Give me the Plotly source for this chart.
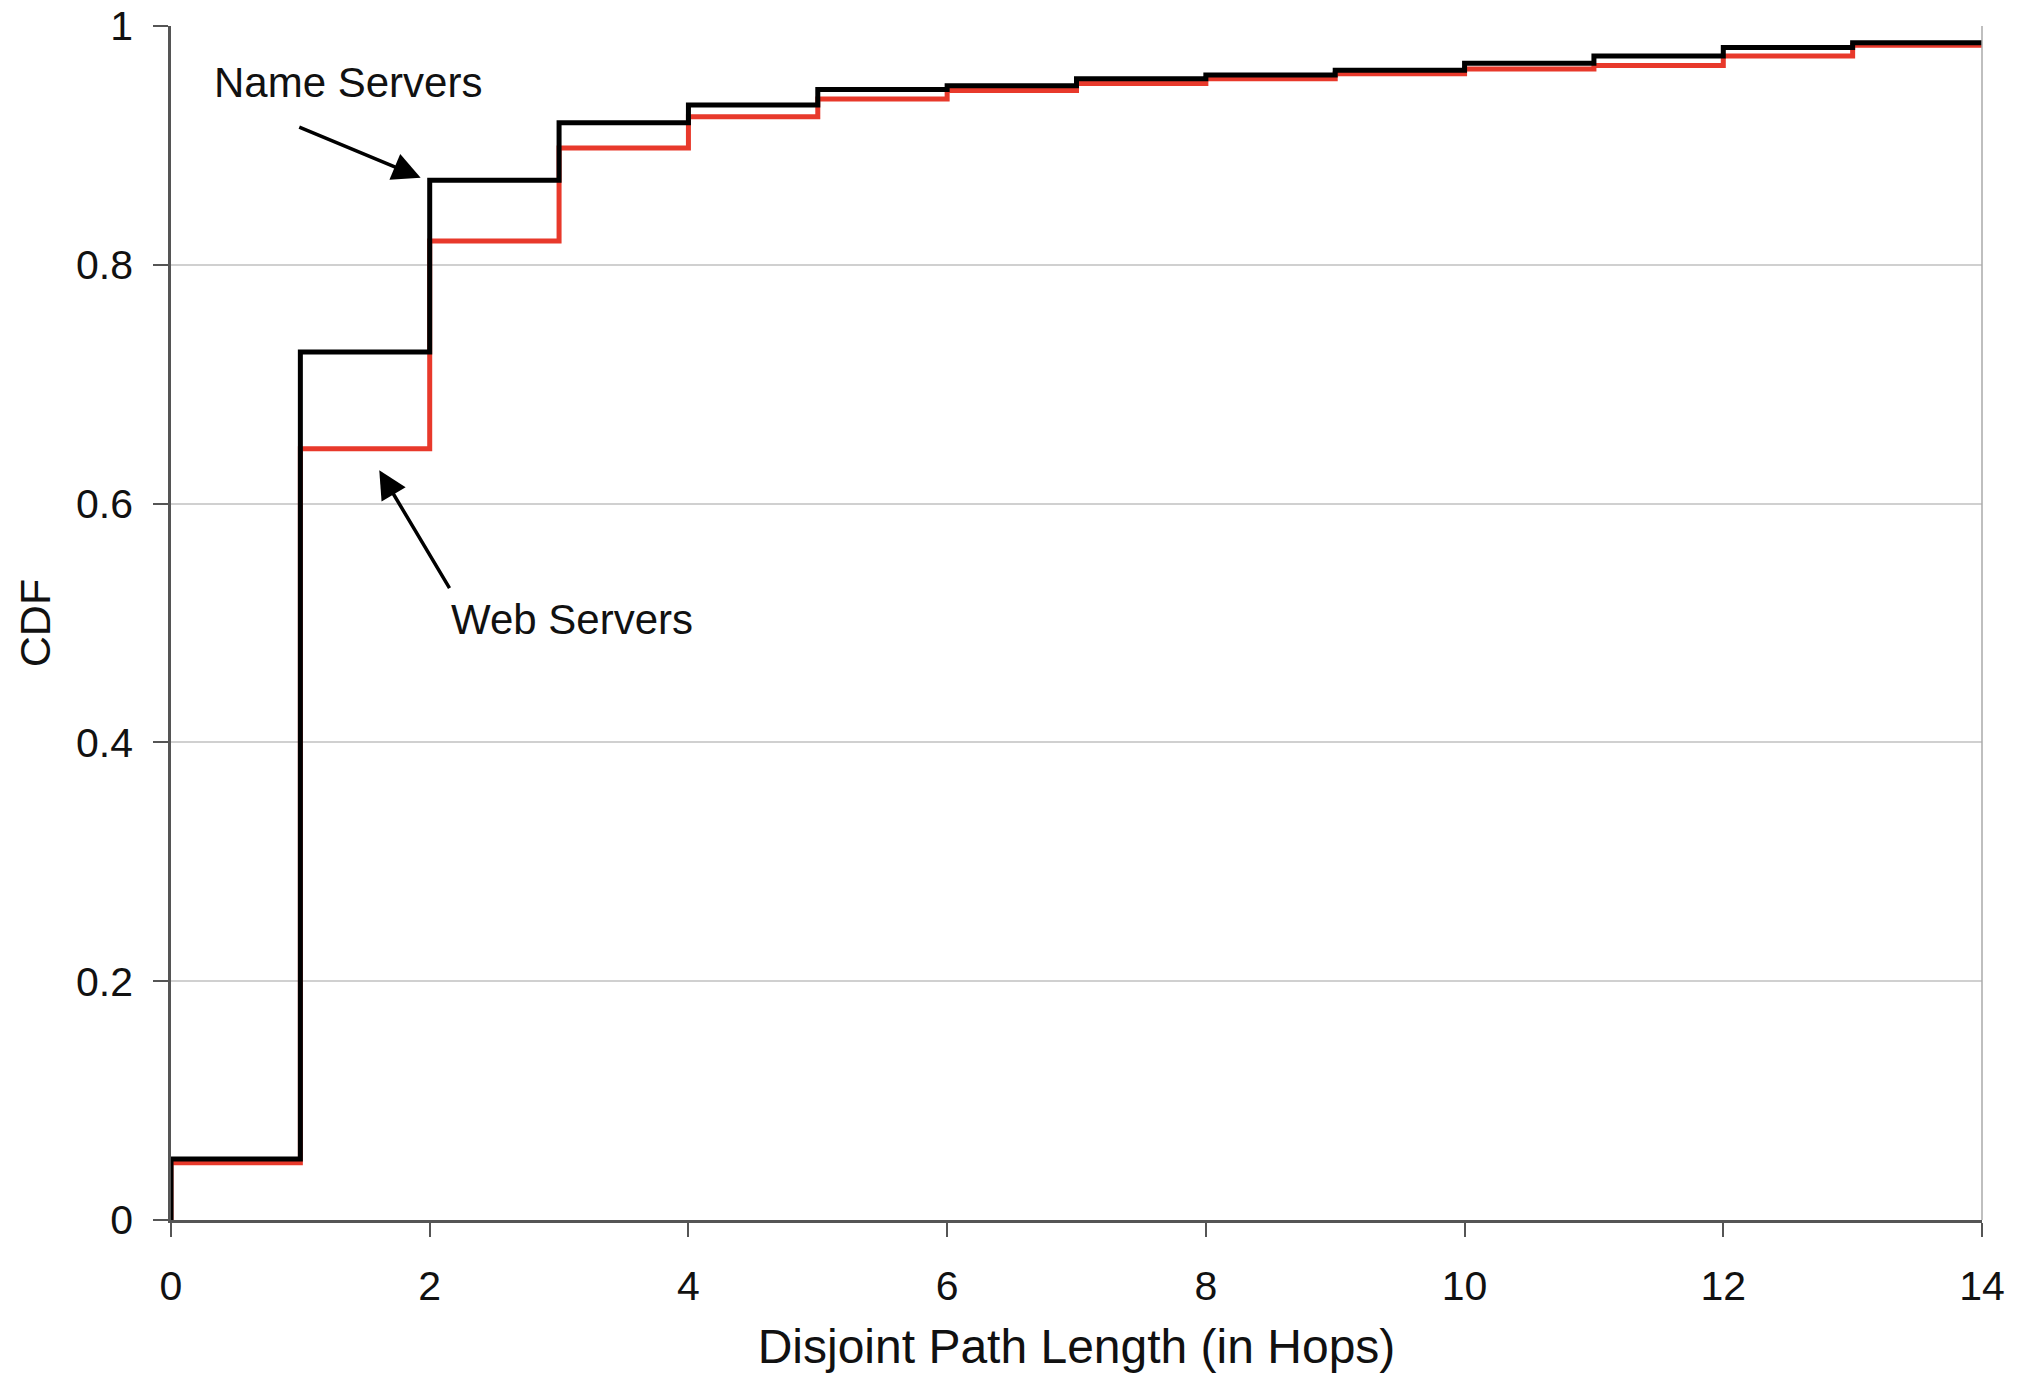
import plotly.graph_objects as go

# Data
hops = [0, 1, 2, 3, 4, 5, 6, 7, 8, 9, 10, 11, 12, 13, 14]
name_servers_cdf = [0.051, 0.727, 0.871, 0.919, 0.934, 0.947, 0.950, 0.956,
                    0.959, 0.963, 0.969, 0.975, 0.982, 0.986, 0.988]
web_servers_cdf = [0.048, 0.646, 0.820, 0.898, 0.924, 0.939, 0.946, 0.952,
                   0.956, 0.960, 0.964, 0.967, 0.975, 0.984, 0.987]
x_ticks = [0, 2, 4, 6, 8, 10, 12, 14]
x_tick_labels = ["0", "2", "4", "6", "8", "10", "12", "14"]
y_ticks = [0, 0.2, 0.4, 0.6, 0.8, 1.0]
y_tick_labels = ["0", "0.2", "0.4", "0.6", "0.8", "1"]

FONT = "Liberation Sans, Arial, Helvetica, sans-serif"

fig = go.Figure()
fig.add_trace(go.Scatter(
    x=[hops[0]] + hops, y=[0] + web_servers_cdf, mode="lines",
    line=dict(color="#e8392b", width=5, shape="hv"),
    name="Web Servers", cliponaxis=False))
fig.add_trace(go.Scatter(
    x=[hops[0]] + hops, y=[0] + name_servers_cdf, mode="lines",
    line=dict(color="#000000", width=5, shape="hv"),
    name="Name Servers", cliponaxis=False))

fig.update_layout(
    width=2034, height=1381,
    margin=dict(l=171, r=52, t=26, b=161, autoexpand=False),
    paper_bgcolor="white", plot_bgcolor="white",
    showlegend=False,
    font=dict(family=FONT, color="#111111", size=40),
)
fig.update_xaxes(
    range=[0, 14], tickvals=x_ticks, ticktext=x_tick_labels,
    automargin=False,
    showgrid=False, zeroline=False,
    showline=True, linecolor="#555555", linewidth=2.5,
    ticks="outside", ticklen=14, tickwidth=2, tickcolor="#555555",
    ticklabelstandoff=14,
    tickfont=dict(size=41, family=FONT),
    title=dict(text="Disjoint Path Length (in Hops)", font=dict(size=48, family=FONT), standoff=22),
)
fig.update_yaxes(
    range=[0, 1.0001], tickvals=y_ticks, ticktext=y_tick_labels,
    automargin=False, ticklabeloverflow="allow",
    showgrid=True, gridcolor="#d0d0d0", gridwidth=2, zeroline=False,
    showline=True, linecolor="#555555", linewidth=2.5,
    ticks="outside", ticklen=15, tickwidth=2, tickcolor="#555555",
    ticklabelstandoff=12,
    tickfont=dict(size=41, family=FONT),
    title=dict(text="CDF", font=dict(size=43, family=FONT), standoff=12),
)
# right border
fig.add_shape(type="line", xref="paper", yref="paper", x0=1, x1=1, y0=0, y1=1,
              line=dict(color="#aaaaaa", width=1.5))

# Annotations
fig.add_annotation(x=0.32, y=0.953, xref="x", yref="y", text="Name Servers",
                   showarrow=False, font=dict(size=42, family=FONT, color="#111111"),
                   xanchor="left", yanchor="middle")
fig.add_annotation(x=1.93, y=0.873, ax=0.98, ay=0.916, xref="x", yref="y",
                   axref="x", ayref="y", text="", showarrow=True,
                   arrowhead=2, arrowsize=1.6, arrowwidth=3.5, arrowcolor="#000000")
fig.add_annotation(x=2.15, y=0.503, xref="x", yref="y", text="Web Servers",
                   showarrow=False, font=dict(size=42, family=FONT, color="#111111"),
                   xanchor="left", yanchor="middle")
fig.add_annotation(x=1.61, y=0.628, ax=2.16, ay=0.528, xref="x", yref="y",
                   axref="x", ayref="y", text="", showarrow=True,
                   arrowhead=2, arrowsize=1.6, arrowwidth=3.5, arrowcolor="#000000")

fig.write_html("out.html")
